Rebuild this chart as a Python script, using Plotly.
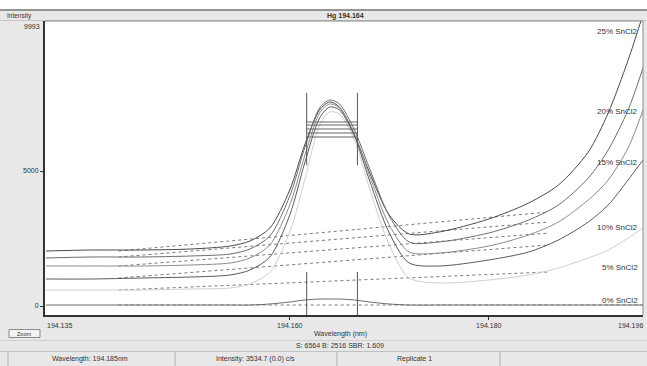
import plotly.graph_objects as go

# ---------------- data ----------------
wavelength = [194.1355, 194.140, 194.145, 194.150, 194.154, 194.156, 194.158, 194.160,
              194.1615, 194.163, 194.164, 194.165, 194.1665, 194.168, 194.170, 194.172,
              194.175, 194.180, 194.184, 194.187, 194.190, 194.192, 194.194, 194.1955]

sn25 = [2037, 2074, 2074, 2111, 2222, 2407, 2889, 4297, 5963, 7260, 7556, 7371, 6334, 4963,
        3370, 2667, 2741, 3222, 3815, 4482, 5704, 7150, 9100, 10800]
sn20 = [1778, 1815, 1815, 1852, 1926, 2111, 2593, 4074, 5852, 7334, 7630, 7482, 6519, 5112,
        3334, 2371, 2371, 2704, 3185, 3741, 4741, 5778, 7260, 8816]
sn15 = [1482, 1482, 1482, 1519, 1593, 1778, 2259, 3741, 5556, 7149, 7482, 7334, 6371, 4852,
        3000, 2000, 1963, 2222, 2630, 3111, 3926, 4667, 5852, 7260]
sn10 = [1000, 1000, 1037, 1074, 1148, 1333, 1815, 3370, 5297, 6964, 7371, 7260, 6297, 4667,
        2704, 1593, 1482, 1704, 2000, 2445, 3111, 3741, 4667, 5408]
sn05 = [593, 593, 593, 630, 667, 815, 1259, 2741, 4667, 6704, 7186, 7112, 6149, 4371,
        2259, 1037, 852, 963, 1148, 1408, 1778, 2074, 2519, 2889]
sn00 = [37, 37, 37, 37, 37, 37, 74, 148, 222, 259, 259, 259, 222, 148,
        74, 37, 37, 37, 37, 37, 37, 37, 37, 37]

series_names = ["25% SnCl2", "20% SnCl2", "15% SnCl2", "10% SnCl2", "5% SnCl2", "0% SnCl2"]
series_values = [sn25, sn20, sn15, sn10, sn05, sn00]
series_colors = ["#4a4a4a", "#6e6e6e", "#8c8c8c", "#5a5a5a", "#cfcfcf", "#6a6a6a"]
label_intensity = [10150, 7190, 5330, 2890, 1410, 220]

# background-fit (dotted) lines: wavelength endpoints and intensities
bg_wl = [194.1428, 194.1860]
bg_25 = [2037, 3480]
bg_20 = [1815, 3110]
bg_15 = [1482, 2700]
bg_10 = [1037, 2260]
bg_05 = [593, 1260]
bg_00_wl = [194.1428, 194.1955]
bg_00 = [37, 37]

# integration window markers
win_wl = [194.1617, 194.1668]
win_top = [7890, 5220]
win_bottom = [1260, -333]
peak_levels = [6815, 6704, 6556, 6408, 6260]

x_ticks = [194.160, 194.180]
x_ticktext = ["194.160", "194.180"]
y_ticks = [0, 5000]
y_ticktext = ["0", "5000"]

# ---------------- figure ----------------
W, H = 647, 366
L, R, T, B = 45, 643, 21, 315
pw, ph = R - L, B - T


def px(x):
    return (x - L) / pw


def py(y):
    return (B - y) / ph


fig = go.Figure()

bg_sets = [bg_25, bg_20, bg_15, bg_10, bg_05]
for vals in bg_sets:
    fig.add_trace(go.Scatter(x=bg_wl, y=vals, mode="lines",
                             line=dict(color="#7a7a7a", width=1, dash="dot"),
                             showlegend=False, hoverinfo="skip"))
fig.add_trace(go.Scatter(x=bg_00_wl, y=bg_00, mode="lines",
                         line=dict(color="#7a7a7a", width=1, dash="dot"),
                         showlegend=False, hoverinfo="skip"))

for name, vals, col in zip(series_names, series_values, series_colors):
    fig.add_trace(go.Scatter(x=wavelength, y=vals, mode="lines", name=name,
                             line=dict(color=col, width=1, shape="spline", smoothing=0.8),
                             showlegend=False))

# window markers
for w in win_wl:
    fig.add_trace(go.Scatter(x=[w, w], y=win_top, mode="lines",
                             line=dict(color="#555", width=1), showlegend=False, hoverinfo="skip"))
    fig.add_trace(go.Scatter(x=[w, w], y=win_bottom, mode="lines",
                             line=dict(color="#555", width=1), showlegend=False, hoverinfo="skip"))
for lv in peak_levels:
    fig.add_trace(go.Scatter(x=win_wl, y=[lv, lv], mode="lines",
                             line=dict(color="#666", width=1), showlegend=False, hoverinfo="skip"))

font = "Liberation Sans"

annotations = []
for name, yv in zip(series_names, label_intensity):
    annotations.append(dict(x=194.1952, y=yv, xref="x", yref="y", text=name,
                            showarrow=False, xanchor="right", yanchor="middle",
                            font=dict(size=8, color="#333", family=font)))


def txt(x, y, s, anchor="center", size=7, bold=False, color="#333"):
    annotations.append(dict(x=px(x), y=py(y), xref="paper", yref="paper",
                            text=("<b>%s</b>" % s) if bold else s, showarrow=False,
                            xanchor=anchor, yanchor="middle",
                            font=dict(size=size, color=color, family=font)))


txt(5, 15.5, "Intensity", "left", 6.5)
txt(345, 15.5, "Hg 194.164", "center", 7, bold=True)
txt(42, 26, "9993", "right", 7)
txt(45, 325, "194.135", "left", 7)
txt(645, 325, "194.196", "right", 7)
txt(340, 334, "Wavelength (nm)", "center", 7)
txt(340, 345.5, "S: 6564 B: 2516 SBR: 1.609", "center", 7)
txt(90, 359, "Wavelength: 194.185nm", "center", 7)
txt(255, 359, "Intensity: 3534.7 (0.0) c/s", "center", 7)
txt(414, 359, "Replicate 1", "center", 7)
txt(24, 333.5, "Zoom", "center", 5.5)

shapes = []


def rect(x0, y0, x1, y1, fill, line=None, layer="below"):
    shapes.append(dict(type="rect", xref="paper", yref="paper",
                       x0=px(x0), x1=px(x1), y0=py(y1), y1=py(y0),
                       fillcolor=fill, line=dict(width=1 if line else 0, color=line or fill),
                       layer=layer))


def hline(x0, x1, y, color, width=1):
    shapes.append(dict(type="line", xref="paper", yref="paper",
                       x0=px(x0), x1=px(x1), y0=py(y), y1=py(y),
                       line=dict(color=color, width=width)))


def vline(x, y0, y1, color, width=1):
    shapes.append(dict(type="line", xref="paper", yref="paper",
                       x0=px(x), x1=px(x), y0=py(y0), y1=py(y1),
                       line=dict(color=color, width=width)))


rect(0, 0, W, 9.5, "#ffffff")
hline(0, W, 10, "#777", 1.5)
hline(0, W, 20.5, "#c8c8c8", 1)
# plot frame
vline(R, T, B, "#8a8a8a", 1)
hline(L, R, T, "#8a8a8a", 1)
# bottom rows
hline(0, W, 340.5, "#d0d0d0", 1)
hline(0, W, 351.5, "#c0c0c0", 1)
vline(8, 352, H, "#b0b0b0", 1)
vline(175, 352, H, "#b0b0b0", 1)
vline(337, 352, H, "#b0b0b0", 1)
vline(500, 352, H, "#b0b0b0", 1)
rect(9, 329.5, 40, 337.5, "#f2f2f2", "#8a8a8a", layer="above")

fig.update_layout(
    width=W, height=H,
    margin=dict(l=L, r=W - R, t=T, b=H - B, pad=0),
    paper_bgcolor="#e8e8e8", plot_bgcolor="#ffffff",
    showlegend=False,
    annotations=annotations, shapes=shapes,
    xaxis=dict(range=[194.1354, 194.1955], tickvals=x_ticks, ticktext=x_ticktext,
               showgrid=False, zeroline=False, showline=True, linecolor="#333", linewidth=2,
               ticks="outside", ticklen=3, tickcolor="#333",
               tickfont=dict(size=7, color="#333", family=font)),
    yaxis=dict(range=[-333, 10556], tickvals=y_ticks, ticktext=y_ticktext,
               showgrid=False, zeroline=False, showline=True, linecolor="#333", linewidth=2,
               ticks="outside", ticklen=3, tickcolor="#333",
               tickfont=dict(size=7, color="#333", family=font)),
)

fig.write_html("out.html")
